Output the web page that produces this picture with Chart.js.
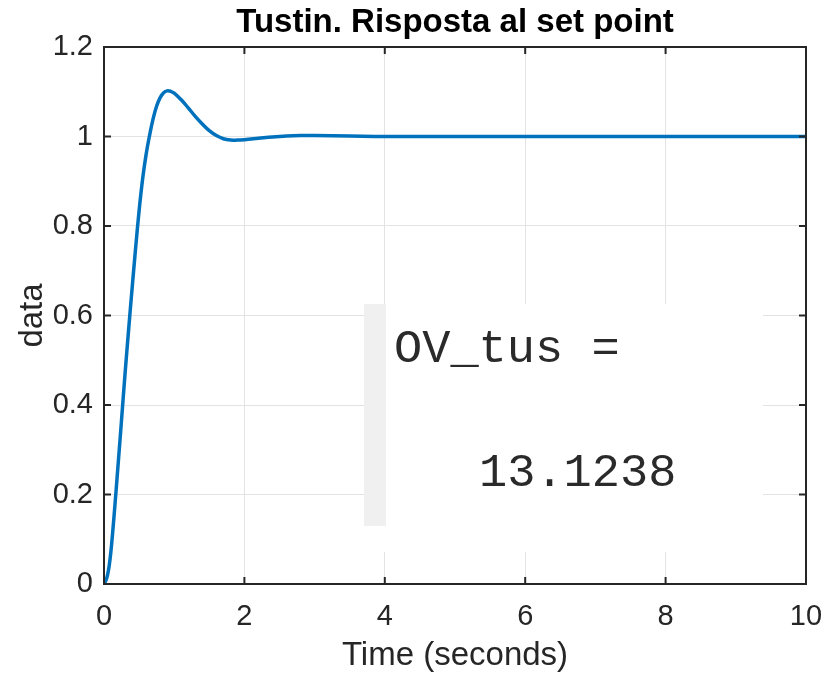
<!DOCTYPE html>
<html>
<head>
<meta charset="utf-8">
<script src="https://cdn.jsdelivr.net/npm/chart.js@4.4.1/dist/chart.umd.min.js"></script>
<style>
  html,body{margin:0;padding:0;background:#fff;}
  #wrap{width:828px;height:676px;}
</style>
</head>
<body>
<div id="wrap"><canvas id="myChart" width="828" height="676"></canvas></div>
<script>
// step response (time in s, output)
const time = [0,0.025,0.05,0.075,0.1,0.125,0.15,0.2,0.25,0.3,0.35,0.4,0.45,0.5,0.55,0.6,0.65,0.7,0.75,0.8,0.85,0.9,0.95,
  1.0,1.1,1.2,1.3,1.4,1.5,1.6,1.7,1.8,1.9,2.0,2.2,2.4,2.6,2.8,3.0,3.5,4,5,6,7,8,9,10];
const response = [0,0.007,0.02,0.042,0.075,0.118,0.165,0.265,0.367,0.47,0.567,0.66,0.75,0.834,0.905,0.96,1.003,1.04,1.068,1.087,1.098,1.102,1.101,
  1.097,1.082,1.064,1.045,1.028,1.013,1.002,0.995,0.992,0.992,0.993,0.996,0.999,1.001,1.002,1.002,1.001,1.0,1.0,1.0,1.0,1.0,1.0,1.0];
const xTicks = ['0','2','4','6','8','10'];
const yTicks = ['0','0.2','0.4','0.6','0.8','1','1.2'];
const titleText = 'Tustin. Risposta al set point';
const ovName = 'OV_tus =';
const ovValue = '13.1238';

const points = [];
for(let i=0;i<time.length;i++){
  points.push({x: time[i], y: response[i]});
}

const axisColor = '#262626';
const fontFam = '"Liberation Sans", Arial, Helvetica, sans-serif';

// box round the axes, ticks pointing inward, like matlab
const boxPlugin = {
  id: 'boxPlugin',
  afterDatasetsDraw(chart){
    const ctx = chart.ctx;
    // the pasted command window snippet
    ctx.save();
    ctx.fillStyle = '#ffffff';
    ctx.fillRect(364, 304, 399, 248);
    ctx.fillStyle = '#f0f0f0';
    ctx.fillRect(364, 304, 22, 222);
    ctx.fillStyle = '#2a2a2a';
    ctx.font = '47px "Liberation Mono", "Courier New", monospace';
    ctx.textBaseline = 'alphabetic';
    ctx.fillText(ovName, 394, 362);
    ctx.fillText(ovValue, 479, 486);
    ctx.restore();
  },
  afterDraw(chart){
    const ctx = chart.ctx;
    const a = chart.chartArea;
    const xs = chart.scales.x, ys = chart.scales.y;
    ctx.save();
    ctx.strokeStyle = axisColor;
    ctx.lineWidth = 2;
    ctx.strokeRect(a.left, a.top, a.right - a.left, a.bottom - a.top);
    ctx.beginPath();
    for(let i=0;i<xTicks.length;i++){
      const px = xs.getPixelForValue(Number(xTicks[i]));
      ctx.moveTo(px, a.bottom); ctx.lineTo(px, a.bottom - 7);
      ctx.moveTo(px, a.top); ctx.lineTo(px, a.top + 7);
    }
    for(let i=0;i<yTicks.length;i++){
      const py = ys.getPixelForValue(Number(yTicks[i]));
      ctx.moveTo(a.left, py); ctx.lineTo(a.left + 7, py);
      ctx.moveTo(a.right, py); ctx.lineTo(a.right - 7, py);
    }
    ctx.stroke();
    // title centred over the axes
    ctx.fillStyle = '#000000';
    ctx.font = 'bold 33px ' + fontFam;
    ctx.textAlign = 'center';
    ctx.textBaseline = 'alphabetic';
    ctx.fillText(titleText, (a.left + a.right) / 2, 32);
    ctx.restore();
  }
};

const data = {
  datasets: [{
    label: 'risposta',
    data: points,
    borderColor: '#0072BD',
    borderWidth: 3.5,
    pointRadius: 0,
    fill: false,
    tension: 0.4
  }]
};

const config = {
  type: 'line',
  data,
  options: {
    responsive: false,
    animation: false,
    layout: { padding: { left: 0, right: 22, top: 47, bottom: 0 } },
    plugins: {
      legend: { display: false },
      tooltip: { enabled: false },
      title: { display: false }
    },
    scales: {
      x: {
        type: 'linear',
        min: 0, max: 10,
        afterFit(scale){
          scale.height = 92;
          scale.paddingLeft = 0;
          scale.paddingRight = 0;
        },
        afterBuildTicks(scale){ scale.ticks = xTicks.map(v => ({value: Number(v)})); },
        ticks: {
          color: axisColor,
          font: { family: fontFam, size: 29 },
          padding: 16,
          maxRotation: 0,
          callback: (v, i) => xTicks[i]
        },
        grid: { color: '#e3e3e3', lineWidth: 1, drawTicks: false },
        border: { display: false },
        title: {
          display: true,
          text: 'Time (seconds)',
          color: axisColor,
          font: { family: fontFam, size: 33 },
          padding: { top: 0, bottom: 0 }
        }
      },
      y: {
        type: 'linear',
        min: 0, max: 1.2,
        afterFit(scale){
          scale.width = 104;
          scale.paddingTop = 0;
          scale.paddingBottom = 0;
        },
        afterBuildTicks(scale){ scale.ticks = yTicks.map(v => ({value: Number(v)})); },
        ticks: {
          color: axisColor,
          font: { family: fontFam, size: 29 },
          padding: 11,
          callback: (v, i) => yTicks[i]
        },
        grid: { color: '#e3e3e3', lineWidth: 1, drawTicks: false },
        border: { display: false },
        title: {
          display: true,
          text: 'data',
          color: axisColor,
          font: { family: fontFam, size: 33 },
          padding: { top: 13, bottom: 0 }
        }
      }
    }
  },
  plugins: [boxPlugin]
};

const myChart = new Chart(document.getElementById('myChart'), config);
</script>
</body>
</html>
